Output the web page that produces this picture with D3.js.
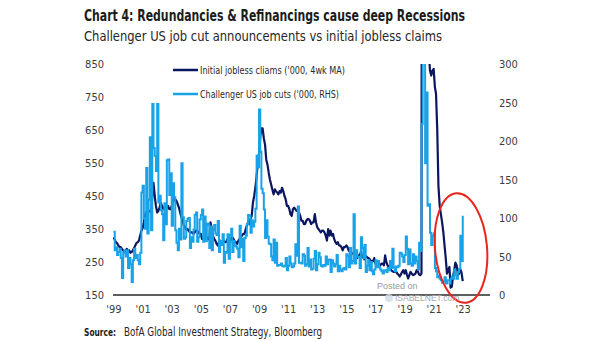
<!DOCTYPE html>
<html>
<head>
<meta charset="utf-8">
<script src="https://cdn.jsdelivr.net/npm/d3@7"></script>
<style>
  body { margin: 0; background: #fff; }
  svg { display: block; font-family: 'Liberation Sans Narrow', 'DejaVu Sans Condensed', 'Liberation Sans', sans-serif; }
</style>
</head>
<body>
<svg id="chart" width="605" height="341"></svg>
<script>
// monthly values, Jan 1999 .. Jan 2023
const startYear = 1999;

// Initial jobless claims ('000, 4wk MA), left axis
const claims = [
  325, 318, 310, 307, 300, 295, 295, 290, 285, 280, 285, 290, // 1999
  282, 285, 278, 280, 285, 292, 300, 308, 310, 315, 330, 345, // 2000
  352, 370, 390, 400, 405, 405, 405, 400, 450, 490, 450, 420, // 2001
  400, 405, 415, 430, 420, 410, 415, 420, 415, 420, 410, 410, // 2002
  420, 430, 440, 440, 435, 425, 415, 400, 385, 375, 360, 355, // 2003
  348, 350, 345, 340, 340, 340, 335, 340, 345, 345, 340, 335, // 2004
  335, 320, 320, 325, 330, 325, 320, 318, 370, 350, 330, 320, // 2005
  315, 305, 300, 310, 315, 310, 310, 315, 310, 310, 320, 315, // 2006
  310, 320, 325, 320, 310, 310, 305, 315, 320, 325, 330, 335, // 2007
  335, 350, 360, 370, 365, 380, 390, 430, 450, 475, 510, 550, // 2008
  580, 630, 655, 655, 625, 605, 560, 545, 520, 500, 485, 470, // 2009
  455, 470, 465, 460, 455, 465, 460, 475, 465, 450, 440, 420, // 2010
  420, 410, 395, 390, 410, 415, 410, 405, 405, 400, 390, 375, // 2011
  375, 365, 365, 375, 380, 380, 375, 365, 370, 370, 395, 370, // 2012
  355, 350, 345, 340, 345, 345, 340, 330, 315, 350, 330, 345, // 2013
  330, 335, 320, 310, 305, 310, 300, 300, 295, 285, 295, 295, // 2014
  300, 295, 285, 280, 280, 275, 275, 270, 268, 262, 270, 270, // 2015
  280, 265, 265, 258, 268, 265, 262, 260, 255, 250, 252, 262, // 2016
  245, 245, 245, 245, 240, 245, 245, 240, 270, 250, 240, 235, // 2017
  235, 225, 222, 220, 220, 222, 215, 212, 206, 212, 220, 225, // 2018
  215, 225, 212, 200, 210, 220, 215, 210, 212, 215, 225, 222, // 2019
  212, 210, 215, 5000, 3500, 1550, 1350, 1100, 880, 830, 815, 830, // 2020
  835, 780, 760, 650, 480, 420, 395, 370, 340, 300, 260, 215, // 2021
  225, 235, 172, 175, 205, 225, 248, 240, 210, 215, 228, 218, // 2022
  192 // 2023
];

// Challenger US job cuts ('000), right axis
const jobCuts = [
  82, 58, 62, 52, 56, 60, 48, 22, 55, 58, 50, 58,               // 1999
  35, 48, 40, 17, 45, 60, 48, 52, 45, 40, 55, 133,              // 2000
  142, 100, 86, 165, 80, 124, 205, 84, 248, 191, 181, 161,      // 2001
  248, 120, 129, 110, 105, 71, 119, 92, 175, 176, 130, 158,     // 2002
  90, 145, 127, 84, 68, 58, 86, 72, 171, 101, 73, 75,           // 2003
  96, 99, 100, 61, 75, 69, 85, 104, 107, 69, 75, 98,            // 2004
  104, 111, 69, 102, 70, 93, 91, 61, 89, 58, 84, 91,            // 2005
  80, 78, 96, 56, 70, 65, 79, 42, 56, 55, 79, 47,               // 2006
  78, 86, 56, 70, 64, 63, 60, 49, 90, 62, 73, 44,               // 2007
  74, 77, 92, 104, 103, 81, 97, 89, 95, 112, 181, 166,          // 2008
  241, 186, 138, 132, 111, 74, 97, 76, 67, 66, 50, 45,          // 2009
  72, 42, 68, 38, 39, 39, 41, 38, 37, 38, 48, 32,               // 2010
  38, 50, 41, 36, 37, 41, 66, 51, 115, 42, 42, 41,              // 2011
  53, 51, 38, 40, 61, 37, 46, 33, 34, 47, 57, 32,               // 2012
  40, 55, 49, 38, 37, 39, 38, 50, 40, 45, 46, 30,               // 2013
  45, 41, 37, 40, 52, 31, 38, 32, 31, 34, 35, 33,               // 2014
  53, 51, 36, 61, 41, 44, 105, 41, 58, 50, 49, 35,              // 2015
  75, 61, 48, 65, 30, 38, 45, 32, 43, 31, 27, 33,               // 2016
  45, 36, 44, 36, 33, 31, 28, 32, 32, 30, 35, 32,               // 2017
  44, 35, 60, 36, 31, 37, 36, 38, 55, 54, 50, 43,               // 2018
  52, 76, 60, 40, 59, 41, 38, 53, 41, 50, 44, 33,               // 2019
  68, 57, 222, 671, 397, 171, 263, 116, 118, 81, 65, 77,        // 2020
  80, 35, 31, 23, 25, 21, 19, 16, 18, 23, 15, 19,               // 2021
  19, 15, 21, 24, 21, 33, 26, 21, 30, 34, 77, 44,               // 2022
  103                                                           // 2023
];

const xTickYears = [1999, 2001, 2003, 2005, 2007, 2009, 2011, 2013, 2015, 2017, 2019, 2021, 2023];
const leftTicks = [150, 250, 350, 450, 550, 650, 750, 850];
const rightTicks = [0, 50, 100, 150, 200, 250, 300];

const DARK = '#0b1660';
const LIGHT = '#18a2e8';

class JobCutsChart {
  constructor() {
    this.svg = d3.select('#chart');
    this.DIMENSIONS = {
      left: 113,
      right: 490,
      top: 64,
      bottom: 295
    };
    const D = this.DIMENSIONS;

    this.xScale = d3.scaleTime()
      .domain([new Date(1999, 0, 1), new Date(2024, 10, 15)])
      .range([113.5, D.right]);
    this.yLeft = d3.scaleLinear().domain([150, 850]).range([D.bottom, D.top]);
    this.yRight = d3.scaleLinear().domain([0, 300]).range([D.bottom, D.top]);

    this.drawTitles();
    this.drawAxes();
    this.drawLines();
    this.drawLegend();
    this.drawNotes();
  }

  drawTitles() {
    this.svg.append('text')
      .attr('x', 84).attr('y', 21)
      .attr('font-size', 15.5).attr('font-weight', 'bold').attr('fill', '#1b1b1b')
      .attr('textLength', 381).attr('lengthAdjust', 'spacingAndGlyphs')
      .text('Chart 4: Redundancies & Refinancings cause deep Recessions');

    this.svg.append('text')
      .attr('x', 84).attr('y', 41)
      .attr('font-size', 14.5).attr('fill', '#262626')
      .attr('textLength', 358).attr('lengthAdjust', 'spacingAndGlyphs')
      .text('Challenger US job cut announcements vs initial jobless claims');

    // source line, two pieces
    this.svg.append('text')
      .attr('x', 84).attr('y', 336)
      .attr('font-size', 10.5).attr('font-weight', 'bold').attr('fill', '#1b1b1b')
      .attr('textLength', 32).attr('lengthAdjust', 'spacingAndGlyphs')
      .text('Source:');
    this.svg.append('text')
      .attr('x', 124).attr('y', 336)
      .attr('font-size', 11.5).attr('fill', '#262626')
      .attr('textLength', 198).attr('lengthAdjust', 'spacingAndGlyphs')
      .text('BofA Global Investment Strategy, Bloomberg');
  }

  drawAxes() {
    const D = this.DIMENSIONS;

    const xAxis = this.svg.append('g')
      .attr('id', 'x-axis')
      .attr('transform', `translate(0, ${D.bottom})`)
      .call(d3.axisBottom(this.xScale)
        .tickValues(xTickYears.map((y) => new Date(y, 0, 1)))
        .tickSize(0)
        .tickPadding(10)
        .tickFormat((d) => "'" + String(d.getFullYear()).slice(2)));
    xAxis.select('.domain').remove();

    const yAxisL = this.svg.append('g')
      .attr('id', 'y-axis-left')
      .attr('transform', 'translate(104, 0)')
      .call(d3.axisLeft(this.yLeft).tickValues(leftTicks).tickSize(0).tickPadding(0));
    yAxisL.select('.domain').remove();

    const yAxisR = this.svg.append('g')
      .attr('id', 'y-axis-right')
      .attr('transform', 'translate(499, 0)')
      .call(d3.axisRight(this.yRight).tickValues(rightTicks).tickSize(0).tickPadding(0));
    yAxisR.select('.domain').remove();

    this.svg.selectAll('.tick text')
      .attr('font-family', "'Liberation Sans Narrow', 'DejaVu Sans Condensed', 'Liberation Sans', sans-serif")
      .attr('font-size', 11)
      .attr('fill', '#3c3c3c');

    // base line
    this.svg.append('line')
      .attr('x1', D.left).attr('x2', D.right)
      .attr('y1', D.bottom).attr('y2', D.bottom)
      .attr('stroke', '#2a2a2a').attr('stroke-width', 1.5);
  }

  drawLines() {
    const D = this.DIMENSIONS;
    const monthDate = (i) => new Date(startYear, i, 1);

    this.svg.append('clipPath').attr('id', 'plot-clip')
      .append('rect')
      .attr('x', D.left).attr('y', D.top)
      .attr('width', D.right - D.left).attr('height', D.bottom - D.top);

    const g = this.svg.append('g').attr('clip-path', 'url(#plot-clip)');

    const claimsLine = d3.line()
      .x((d, i) => this.xScale(monthDate(i)))
      .y((d) => this.yLeft(d));

    const cutsLine = d3.line()
      .curve(d3.curveStepAfter)
      .x((d, i) => this.xScale(monthDate(i)))
      .y((d) => this.yRight(d));

    g.append('path')
      .datum(claims)
      .attr('d', claimsLine)
      .attr('fill', 'none')
      .attr('stroke', DARK)
      .attr('stroke-width', 2.2)
      .attr('stroke-linejoin', 'round');

    g.append('path')
      .datum(jobCuts)
      .attr('d', cutsLine)
      .attr('fill', 'none')
      .attr('stroke', LIGHT)
      .attr('stroke-width', 2);
  }

  drawLegend() {
    const items = [
      { label: "Initial jobless cliams ('000, 4wk MA)", color: DARK, y: 70, len: 145 },
      { label: "Challenger US job cuts ('000, RHS)", color: LIGHT, y: 94, len: 139 }
    ];
    const lg = this.svg.append('g').attr('id', 'legend');
    items.forEach((it) => {
      lg.append('line')
        .attr('x1', 173).attr('x2', 198)
        .attr('y1', it.y).attr('y2', it.y)
        .attr('stroke', it.color).attr('stroke-width', 2.5);
      lg.append('text')
        .attr('x', 200).attr('y', it.y + 4)
        .attr('font-size', 11).attr('fill', '#2a2a2a')
        .attr('textLength', it.len).attr('lengthAdjust', 'spacingAndGlyphs')
        .text(it.label);
    });
  }

  drawNotes() {
    // red highlight ring round the latest readings
    this.svg.append('ellipse')
      .attr('cx', 461).attr('cy', 248)
      .attr('rx', 26).attr('ry', 55)
      .attr('transform', 'rotate(-5, 461, 248)')
      .attr('fill', 'none')
      .attr('stroke', '#e8261e')
      .attr('stroke-width', 2);

    // watermark
    this.svg.append('text')
      .attr('x', 377).attr('y', 289)
      .attr('font-family', "'Liberation Sans', sans-serif")
      .attr('font-size', 9).attr('fill', '#9a9a9a')
      .text('Posted on');
    this.svg.append('circle')
      .attr('cx', 389).attr('cy', 298).attr('r', 4)
      .attr('fill', '#cfdbe6').attr('opacity', 0.8);
    this.svg.append('text')
      .attr('x', 395).attr('y', 300.5)
      .attr('font-family', "'Liberation Sans', sans-serif")
      .attr('font-size', 8.5).attr('fill', '#a8a8a8')
      .text('ISABELNET.com');
  }
}

new JobCutsChart();
</script>
</body>
</html>
